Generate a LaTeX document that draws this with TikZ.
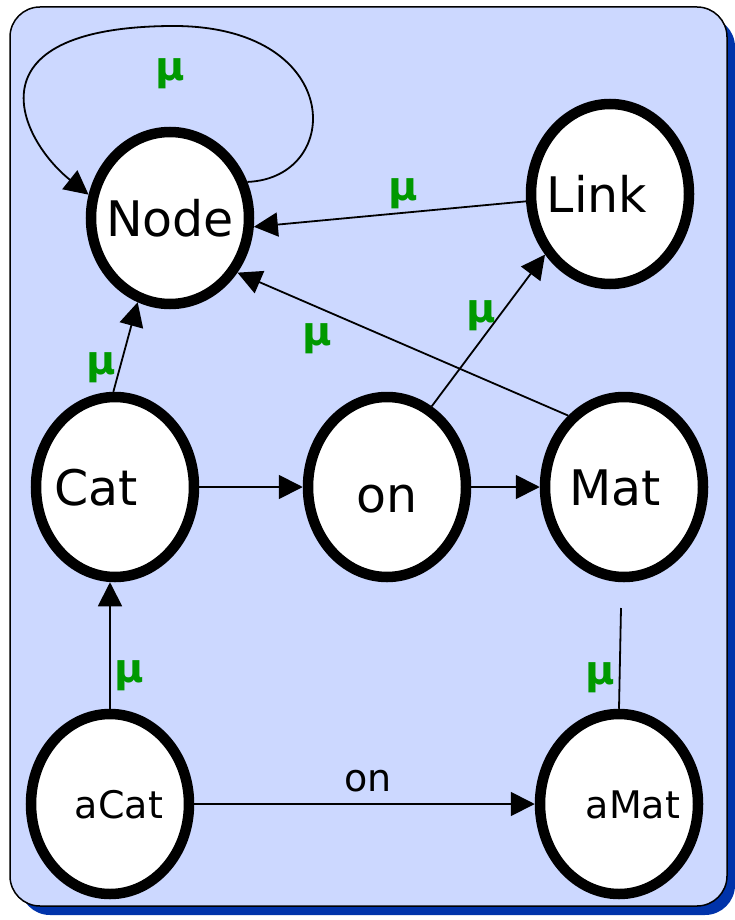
\documentclass[tikz,border=0pt]{standalone}
\usepackage{fontspec}
\setmainfont{DejaVu Sans}
\usetikzlibrary{shapes.geometric,arrows.meta}
\definecolor{panelblue}{HTML}{CCD8FF}
\definecolor{shadowblue}{HTML}{0033AA}
\definecolor{mugreen}{HTML}{009900}
% text of an ellipse, shifted by half of #1
\newcommand{\lbl}[2]{\makebox[0pt]{\hspace*{#1}#2}}

\begin{document}
\begin{tikzpicture}[
                    x=1pt, y=-1pt,
                    state/.style={ellipse, draw, line width=10.5pt, fill=white, minimum width=158pt, minimum height=180pt, inner sep=0pt, font=\fontsize{49}{52}\selectfont, text height=36pt, text depth=0pt},
                    inst/.style={state, font=\fontsize{38}{42}\selectfont, text height=28pt},
                    arr/.style={-{Triangle[length=24pt,width=24pt]}, line width=1.8pt},
                    mu/.style={text=mugreen, font=\fontsize{40}{44}\selectfont\bfseries},
                    edgelabel/.style={font=\fontsize{38}{42}\selectfont}
                ]
                    \useasboundingbox (0,0) rectangle (735,920);

                    % Panel
                    \fill[shadowblue, rounded corners=30pt] (20,17) rectangle (735,915);
                    \draw[fill=panelblue, line width=1.5pt, rounded corners=30pt] (10,7) rectangle (727,906);

                    % Type nodes
                    \node[state, minimum height=172pt] (Node) at (170,218) {\lbl{0pt}{Node}};
                    \node[state] (Link) at (610,194) {\lbl{-26pt}{Link}};
                    \node[state] (Cat) at (115,487) {\lbl{-38pt}{Cat}};
                    \node[state, text height=50pt] (on) at (387,487) {\lbl{0pt}{on}};
                    \node[state] (Mat) at (624,487) {\lbl{-18pt}{Mat}};

                    % Instance nodes
                    \node[inst] (aCat) at (110,804) {\lbl{18pt}{aCat}};
                    \node[inst] (aMat) at (619,804) {\lbl{28pt}{aMat}};
                    \coordinate (matTail) at (621,608);

                    % Meta links
                    \draw[arr] (Node.25) .. controls (345,178) and (345,24) .. (170,26) node[mu, below=28pt] {μ} .. controls (-35,28) and (20,140) .. (Node.164);
                    \draw[arr] (Link.185) -- node[mu, above, pos=0.45] {μ} (Node.-6);
                    \draw[arr] (Mat.128) -- node[mu, below, pos=0.76, yshift=-12pt] {μ} (Node.-39);
                    \draw[arr] (on.61) -- node[mu, left, pos=0.6] {μ} (Link.223);
                    \draw[arr] (Cat.91) -- node[mu, left, pos=0.27] {μ} (Node.249);
                    \draw[arr] (aCat.north) -- node[mu, right, pos=0.26] {μ} (aCat.north |- Cat.south);
                    \draw[line width=1.8pt] (aMat.north) -- node[mu, left, pos=0.31] {μ} (matTail);

                    % Relations
                    \draw[arr] (Cat.east) -- (on.west);
                    \draw[arr] (on.east) -- (Mat.west);
                    \draw[arr] (aCat.east) -- node[edgelabel, above=8pt, pos=0.51] {on} (aMat.west);
                \end{tikzpicture}
\end{document}
